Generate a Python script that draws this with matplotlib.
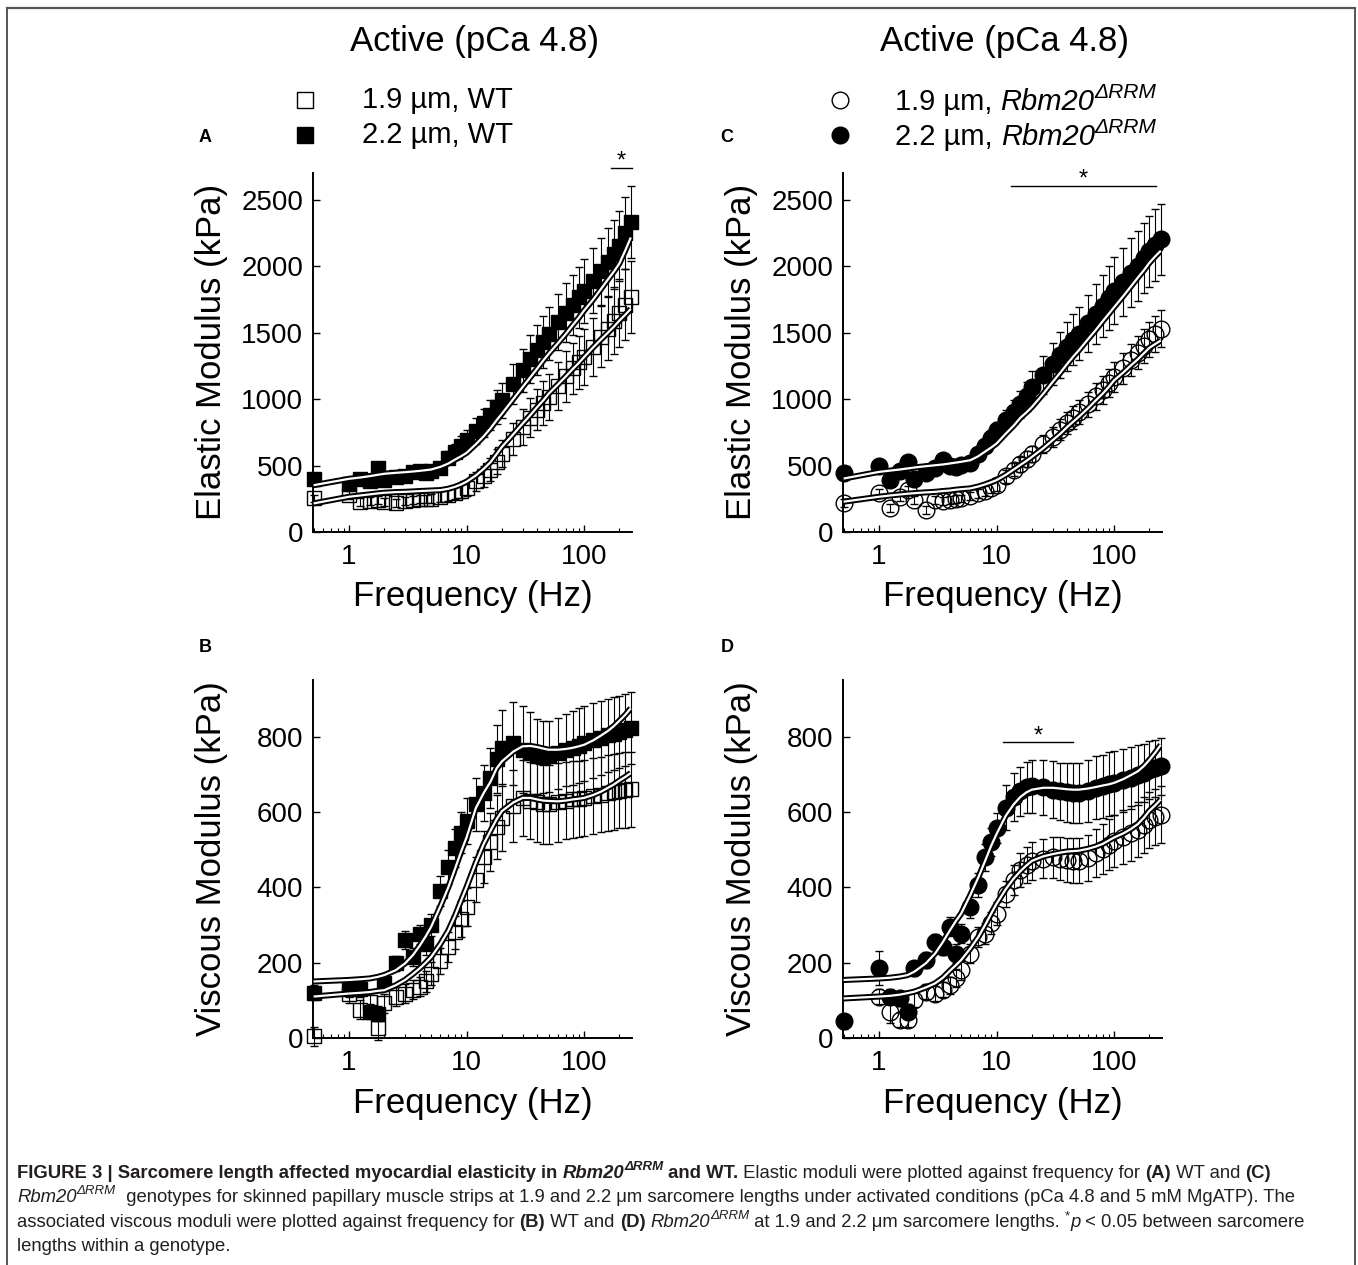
import numpy as np
import matplotlib
matplotlib.use("Agg")
import matplotlib.pyplot as plt
from matplotlib.ticker import LogLocator, NullFormatter

plt.rcParams['font.family'] = ['Liberation Sans', 'DejaVu Sans']

# ---------------- data ----------------
freq = [0.5, 1, 1.25, 1.5, 1.75, 2, 2.5, 3, 3.5, 4, 4.5, 5, 6, 7, 8, 9, 10, 12, 14, 16, 18, 20,
        25, 30, 35, 40, 45, 50, 60, 70, 80, 90, 100, 120, 140, 160, 180, 200, 225, 250]

# Panel A: elastic modulus, WT
a_22_mean = [400, 360, 395, 380, 480, 390, 410, 420, 450, 460, 440, 460, 480, 560, 600, 650, 690, 760, 820, 880, 940, 990,
             1110, 1215, 1300, 1370, 1430, 1490, 1580, 1650, 1710, 1765, 1815, 1890, 1960, 2030, 2090, 2150, 2250, 2330]
a_22_err = [40, 40, 40, 40, 40, 40, 40, 40, 40, 40, 40, 40, 45, 50, 60, 70, 80, 95, 105, 115, 125, 130,
            150, 165, 180, 190, 195, 200, 210, 220, 225, 230, 240, 245, 250, 255, 260, 265, 270, 270]
a_22_fit = [352, 400, 410, 420, 430, 438, 445, 450, 455, 460, 465, 470, 490, 515, 545, 570, 595, 660, 720, 780, 840, 890,
            1000, 1090, 1165, 1230, 1290, 1340, 1420, 1490, 1555, 1610, 1665, 1750, 1830, 1900, 1960, 2020, 2120, 2215]
a_19_mean = [252, 280, 225, 230, 240, 225, 215, 235, 240, 245, 245, 250, 265, 278, 295, 310, 328, 380, 420, 470, 530, 590,
             700, 790, 860, 920, 970, 1015, 1100, 1170, 1230, 1275, 1315, 1390, 1470, 1530, 1590, 1650, 1710, 1765]
a_19_err = [30, 30, 30, 30, 30, 30, 30, 30, 30, 30, 30, 35, 40, 45, 50, 55, 60, 70, 78, 85, 92, 100,
            120, 135, 145, 155, 165, 170, 180, 190, 195, 200, 210, 220, 230, 240, 250, 255, 265, 270]
a_19_fit = [215, 265, 275, 283, 290, 295, 300, 302, 305, 308, 310, 312, 315, 325, 340, 358, 378, 425, 475, 525, 585, 640,
            735, 815, 880, 940, 990, 1040, 1110, 1170, 1225, 1270, 1315, 1390, 1450, 1500, 1545, 1590, 1635, 1678]

# Panel B: viscous modulus, WT
b_22_mean = [120, 130, 130, 70, 65, 145, 198, 260, 215, 275, 250, 300, 390, 453, 505, 545, 576, 620, 650, 690, 740, 770,
             782, 765, 755, 747, 745, 747, 755, 765, 770, 776, 782, 790, 797, 803, 808, 812, 818, 822]
b_22_err = [20, 20, 20, 20, 20, 20, 20, 25, 25, 25, 30, 30, 40, 45, 50, 55, 60, 70, 75, 80, 90, 100,
            110, 115, 110, 100, 95, 95, 95, 95, 98, 100, 100, 100, 98, 97, 96, 95, 95, 95]
b_22_fit = [150, 154, 156, 158, 162, 167, 180, 198, 220, 245, 270, 295, 350, 400, 450, 495, 532, 610, 650, 680, 715, 734,
            760, 774, 775, 772, 768, 765, 765, 767, 770, 774, 778, 790, 803, 815, 828, 842, 858, 875]
b_19_mean = [5, 118, 75, 95, 26, 92, 110, 118, 128, 136, 150, 171, 205, 242, 280, 315, 347, 420, 480, 520, 560, 585,
             615, 637, 630, 625, 620, 620, 625, 630, 633, 635, 637, 642, 646, 650, 653, 656, 658, 660]
b_19_err = [25, 25, 25, 25, 30, 25, 25, 25, 25, 25, 28, 30, 35, 40, 45, 48, 50, 60, 70, 78, 85, 90,
            95, 100, 103, 105, 105, 105, 104, 103, 102, 101, 100, 100, 100, 100, 100, 100, 100, 100]
b_19_fit = [110, 118, 120, 122, 125, 127, 140, 154, 170, 185, 200, 215, 250, 285, 325, 365, 400, 465, 515, 550, 580, 602,
            625, 637, 637, 633, 630, 629, 628, 630, 633, 635, 637, 645, 654, 664, 673, 683, 693, 703]

# Panel C: elastic modulus, Rbm20 dRRM
c_22_mean = [440, 500, 390, 460, 527, 402, 440, 478, 540, 500, 490, 502, 520, 590, 650, 710, 765, 840, 900, 960, 1020, 1090,
             1180, 1265, 1330, 1395, 1445, 1490, 1570, 1640, 1700, 1760, 1815, 1880, 1950, 2000, 2060, 2110, 2160, 2200]
c_22_err = [30, 30, 30, 30, 30, 30, 30, 30, 30, 30, 30, 32, 38, 42, 48, 55, 60, 75, 90, 100, 110, 120,
            140, 160, 175, 185, 192, 200, 215, 225, 235, 242, 250, 255, 258, 262, 265, 268, 270, 270]
c_22_fit = [402, 452, 462, 470, 478, 485, 495, 502, 508, 515, 522, 528, 540, 570, 605, 635, 665, 740, 800, 860, 900, 940,
            1040, 1128, 1200, 1265, 1320, 1365, 1450, 1520, 1585, 1640, 1690, 1775, 1850, 1915, 1970, 2025, 2075, 2115]
c_19_mean = [215, 290, 178, 260, 315, 240, 165, 240, 230, 240, 245, 252, 270, 290, 310, 330, 352, 420, 470, 510, 550, 590,
             660, 715, 770, 820, 860, 902, 960, 1020, 1070, 1120, 1165, 1230, 1295, 1350, 1400, 1450, 1490, 1528]
c_19_err = [30, 30, 30, 30, 30, 30, 30, 30, 30, 30, 30, 30, 32, 35, 38, 40, 42, 48, 52, 55, 58, 60,
            68, 75, 80, 85, 88, 90, 95, 100, 105, 108, 110, 115, 120, 125, 130, 133, 137, 140]
c_19_fit = [228, 265, 275, 282, 288, 292, 298, 302, 308, 312, 318, 322, 328, 342, 358, 374, 390, 430, 470, 505, 535, 565,
            630, 690, 740, 790, 830, 865, 930, 990, 1040, 1090, 1140, 1200, 1255, 1300, 1345, 1385, 1415, 1440]

# Panel D: viscous modulus, Rbm20 dRRM
d_22_mean = [45, 185, 110, 105, 70, 185, 207, 255, 242, 295, 224, 277, 347, 405, 479, 520, 558, 611, 640, 655, 665, 668,
             665, 659, 655, 652, 650, 650, 655, 664, 668, 673, 677, 684, 690, 697, 703, 710, 716, 721]
d_22_err = [20, 45, 20, 20, 20, 20, 20, 22, 22, 25, 25, 25, 28, 32, 36, 38, 40, 60, 63, 65, 68, 70,
            72, 75, 76, 78, 79, 80, 82, 83, 84, 85, 85, 83, 81, 80, 78, 77, 76, 75]
d_22_fit = [154, 158, 160, 163, 167, 176, 198, 224, 255, 285, 310, 330, 380, 426, 470, 510, 541, 590, 620, 640, 652, 659,
            664, 664, 662, 660, 659, 659, 662, 666, 670, 673, 677, 687, 698, 708, 722, 738, 758, 778]
d_19_mean = [np.nan, 110, 70, 48, 48, 101, 123, 118, 128, 140, 160, 180, 224, 268, 277, 305, 330, 382, 420, 445, 460, 470,
             476, 479, 476, 473, 471, 470, 478, 490, 502, 513, 523, 533, 543, 552, 565, 578, 586, 593]
d_19_err = [20, 20, 30, 20, 20, 20, 20, 20, 20, 22, 24, 25, 26, 27, 28, 29, 30, 35, 40, 45, 48, 50,
            52, 55, 57, 58, 59, 60, 62, 64, 66, 68, 70, 71, 72, 73, 74, 74, 75, 75]
d_19_fit = [105, 110, 112, 115, 119, 123, 134, 145, 160, 178, 193, 207, 238, 268, 300, 330, 356, 395, 423, 443, 458, 470,
            482, 488, 492, 495, 496, 497, 502, 508, 515, 524, 532, 543, 555, 568, 585, 603, 618, 633]

# significance bars: (x_start, x_end, y)
sig_A = (170, 255, 2740)
sig_C = (13.4, 226, 2602)
sig_D = (11.4, 45, 785)

xticks = [1, 10, 100]
xtick_labels = ['1', '10', '100']
elastic_ticks = [0, 500, 1000, 1500, 2000, 2500]
viscous_ticks = [0, 200, 400, 600, 800]

# ---------------- figure ----------------
W, H = 1358, 1265
fig = plt.figure(figsize=(W / 100, H / 100), dpi=100)
fig.patch.set_facecolor('white')
renderer = fig.canvas.get_renderer()


def px_axes(l, t, r, b):
    return fig.add_axes([l / W, 1 - b / H, (r - l) / W, (b - t) / H])


def fx(x):
    return x / W


def fy(y):
    return 1 - y / H


def style_axes(ax, ylim, yticks):
    ax.set_xscale('log')
    ax.set_xlim(0.494, 256)
    ax.set_ylim(*ylim)
    ax.set_xticks(xticks)
    ax.set_xticklabels(xtick_labels)
    ax.xaxis.set_minor_locator(LogLocator(base=10, subs=np.arange(2, 10)))
    ax.xaxis.set_minor_formatter(NullFormatter())
    ax.set_yticks(yticks)
    ax.set_yticklabels([str(v) for v in yticks])
    for s in ['top', 'right']:
        ax.spines[s].set_visible(False)
    for s in ['left', 'bottom']:
        ax.spines[s].set_linewidth(1.4)
    ax.tick_params(axis='both', which='major', direction='in', length=5, width=1.0,
                   labelsize=20, pad=7)
    ax.tick_params(axis='x', which='major', pad=9)
    ax.tick_params(axis='x', which='minor', direction='in', length=3, width=0.8)
    ax.patch.set_alpha(0)


def draw_series(ax, mean, err, marker, ms, filled):
    eb = ax.errorbar(freq, mean, yerr=err, fmt=marker, ms=ms,
                     mfc='black' if filled else 'none', mec='black', mew=1.0,
                     ecolor='black', elinewidth=0.8, capsize=3, capthick=0.8,
                     zorder=3 if filled else 2)
    for art in eb.get_children():
        art.set_clip_on(False)


def draw_fit(ax, fit):
    ax.plot(freq, fit, color='black', lw=4.4, zorder=5, solid_capstyle='butt')
    ax.plot(freq, fit, color='white', lw=1.6, zorder=6, solid_capstyle='butt')


def sig(ax, s):
    x0, x1, y = s
    ax.plot([x0, x1], [y, y], color='black', lw=1.0, clip_on=False)
    xm = np.sqrt(x0 * x1)
    ax.text(xm, y, '*', ha='center', va='baseline', fontsize=17, clip_on=False)


axA = px_axes(313, 173, 632, 532)
axB = px_axes(313, 680, 632, 1038)
axC = px_axes(843, 173, 1162, 532)
axD = px_axes(843, 680, 1162, 1038)

style_axes(axA, (0, 2700), elastic_ticks)
style_axes(axC, (0, 2700), elastic_ticks)
style_axes(axB, (0, 950), viscous_ticks)
style_axes(axD, (0, 950), viscous_ticks)

draw_series(axA, a_19_mean, a_19_err, 's', 9.5, False)
draw_series(axA, a_22_mean, a_22_err, 's', 9.5, True)
draw_fit(axA, a_22_fit); draw_fit(axA, a_19_fit)

draw_series(axB, b_19_mean, b_19_err, 's', 9.5, False)
draw_series(axB, b_22_mean, b_22_err, 's', 9.5, True)
draw_fit(axB, b_22_fit); draw_fit(axB, b_19_fit)

draw_series(axC, c_19_mean, c_19_err, 'o', 12, False)
draw_series(axC, c_22_mean, c_22_err, 'o', 12, True)
draw_fit(axC, c_22_fit); draw_fit(axC, c_19_fit)

draw_series(axD, d_19_mean, d_19_err, 'o', 12, False)
draw_series(axD, d_22_mean, d_22_err, 'o', 12, True)
draw_fit(axD, d_22_fit); draw_fit(axD, d_19_fit)

sig(axA, sig_A)
sig(axC, sig_C)
sig(axD, sig_D)

# axis labels
for cx in (212, 742):
    fig.text(fx(cx), fy(352), 'Elastic Modulus (kPa)', rotation=90, ha='center', va='center', fontsize=25)
    fig.text(fx(cx), fy(859), 'Viscous Modulus (kPa)', rotation=90, ha='center', va='center', fontsize=25)
for cx in (473, 1003):
    fig.text(fx(cx), fy(597), 'Frequency (Hz)', ha='center', va='center', fontsize=25)
    fig.text(fx(cx), fy(1103), 'Frequency (Hz)', ha='center', va='center', fontsize=25)

# titles
fig.text(fx(474), fy(42), 'Active (pCa 4.8)', ha='center', va='center', fontsize=25)
fig.text(fx(1004), fy(42), 'Active (pCa 4.8)', ha='center', va='center', fontsize=25)


# ---------- mixed-style text runs ----------
def measure(s, **kw):
    t1 = fig.text(0, 0, '|' + s + '|', **kw)
    t2 = fig.text(0, 0, '||', **kw)
    w = t1.get_window_extent(renderer).width - t2.get_window_extent(renderer).width
    t1.remove(); t2.remove()
    return w


def text_runs(x0, y0, pieces, size, color):
    x = x0
    for txt, st in pieces:
        weight = 'bold' if 'b' in st else 'normal'
        style = 'italic' if 'i' in st else 'normal'
        fs = size * 0.72 if 's' in st else size
        dy = size * 100 / 72 * 0.42 if 's' in st else 0
        kw = dict(fontsize=fs, weight=weight, style=style, color=color)
        fig.text(fx(x), fy(y0 - dy), txt, ha='left', va='baseline', **kw)
        x += measure(txt, **kw)


# legends
leg_left = [('s', 'white', '1.9 µm, WT', 100), ('s', 'black', '2.2 µm, WT', 135)]
for m, fc, lab, y in leg_left:
    fig.lines.append(matplotlib.lines.Line2D([fx(305)], [fy(y)], marker=m, ms=11, mfc=fc, mec='black',
                                             mew=1.0, ls='none', transform=fig.transFigure))
    fig.text(fx(362), fy(y), lab, ha='left', va='center', fontsize=21)
leg_right = [('o', 'white', '1.9 µm, ', 100), ('o', 'black', '2.2 µm, ', 135)]
for m, fc, lab, y in leg_right:
    fig.lines.append(matplotlib.lines.Line2D([fx(840)], [fy(y)], marker=m, ms=12, mfc=fc, mec='black',
                                             mew=1.0, ls='none', transform=fig.transFigure))
    text_runs(895, y + 10, [(lab, ''), ('Rbm20', 'i'), ('ΔRRM', 'is')], 21, 'black')

# panel letters
for lab, x, y in [('A', 205, 138), ('B', 205, 647), ('C', 727, 138), ('D', 727, 647)]:
    fig.text(fx(x), fy(y), lab, ha='center', va='center', fontsize=13, weight='bold')

# frame (top, left, right)
frame_col = '#555555'
fig.lines.append(matplotlib.lines.Line2D([fx(7), fx(1355)], [fy(8), fy(8)], color=frame_col, lw=1.6,
                                         transform=fig.transFigure))
fig.lines.append(matplotlib.lines.Line2D([fx(7), fx(7)], [fy(8), fy(1265)], color=frame_col, lw=1.4,
                                         transform=fig.transFigure))
fig.lines.append(matplotlib.lines.Line2D([fx(1355), fx(1355)], [fy(8), fy(1265)], color=frame_col, lw=1.4,
                                         transform=fig.transFigure))

# caption
cap_col = '#231f20'
CAP_FS = 13.3
text_runs(17, 1178, [('FIGURE 3 | Sarcomere length affected myocardial elasticity in ', 'b'),
                     ('Rbm20', 'bi'), ('ΔRRM', 'bis'), (' and WT.', 'b'),
                     (' Elastic moduli were plotted against frequency for ', ''), ('(A)', 'b'),
                     (' WT and ', ''), ('(C)', 'b')], CAP_FS, cap_col)
text_runs(17, 1202, [('Rbm20', 'i'), ('ΔRRM', 'is'),
                     ('  genotypes for skinned papillary muscle strips at 1.9 and 2.2 μm sarcomere lengths '
                      'under activated conditions (pCa 4.8 and 5 mM MgATP). The', '')], CAP_FS, cap_col)
text_runs(17, 1227, [('associated viscous moduli were plotted against frequency for ', ''), ('(B)', 'b'),
                     (' WT and ', ''), ('(D)', 'b'), (' ', ''), ('Rbm20', 'i'), ('ΔRRM', 'is'),
                     (' at 1.9 and 2.2 μm sarcomere lengths. ', ''), ('*', 's'), ('p', 'i'),
                     (' < 0.05 between sarcomere', '')], CAP_FS, cap_col)
text_runs(17, 1251, [('lengths within a genotype.', '')], CAP_FS, cap_col)

fig.savefig('out.png', dpi=100, facecolor='white')
